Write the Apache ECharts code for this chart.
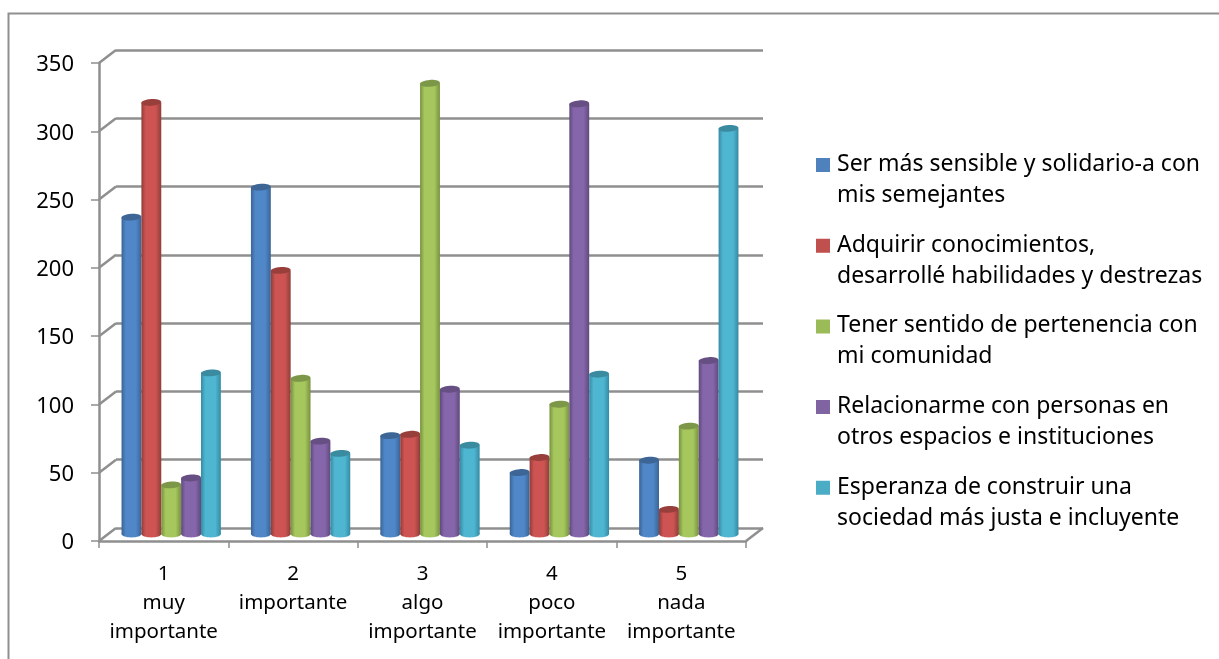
<!DOCTYPE html>
<html><head><meta charset="utf-8">
<style>html,body{margin:0;padding:0;background:#fff}#c{width:1219px;height:659px}</style>
<script src="https://cdn.jsdelivr.net/npm/echarts@6/dist/echarts.min.js"></script>
</head><body><div id="c"></div>
<script>
const categories = ['1\nmuy\nimportante','2\nimportante','3\nalgo\nimportante','4\npoco\nimportante','5\nnada\nimportante'];
const yTicks = [0,50,100,150,200,250,300,350];
const serie1 = [232,254,72,45,54];
const serie2 = [316,193,73,56,18];
const serie3 = [36,114,330,95,79];
const serie4 = [41,68,106,315,127];
const serie5 = [118,59,65,117,297];
const names = [
 'Ser más sensible y solidario-a con\nmis semejantes',
 'Adquirir conocimientos,\ndesarrollé habilidades y destrezas',
 'Tener sentido de pertenencia con\nmi comunidad',
 'Relacionarme con personas en\notros espacios e instituciones',
 'Esperanza de construir una\nsociedad más justa e incluyente'];
const values = [serie1,serie2,serie3,serie4,serie5];
const colors = ['#4f81bd','#c0504d','#9bbb59','#8064a2','#4bacc6'];
const light  = ['#4f87c9','#cd5452','#a5c75e','#8666ab','#4fb6d2'];
const dark   = ['#3a6494','#8f3d3a','#78913f','#5e4a7c','#358ba3'];
const capCol = ['#3d6696','#983f3c','#7c9747','#664f83','#3a8aa0'];
const font = '"Noto Sans", sans-serif';
const gridCol = '#8f8f8f';
const depthX = 17, depthY = 13;

function barRenderer(si){
  return function(params, api){
    const band = api.size([1,0])[0];
    const w = band*0.1535;
    const c = api.coord([api.value(0), api.value(1)]);
    const b = api.coord([api.value(0), 0]);
    const x = c[0] + (si-2)*w - w/2;
    const ry = 3.4;
    const fill = new echarts.graphic.LinearGradient(0,0,1,0,[
      {offset:0,color:dark[si]},{offset:.22,color:light[si]},
      {offset:.72,color:light[si]},{offset:1,color:dark[si]}]);
    return {type:'group',children:[
      {type:'ellipse',shape:{cx:x+w/2,cy:b[1],rx:w/2,ry:ry},style:{fill:fill}},
      {type:'rect',shape:{x:x,y:c[1],width:w,height:b[1]-c[1]},style:{fill:fill}},
      {type:'ellipse',shape:{cx:x+w/2,cy:c[1],rx:w/2,ry:ry},rotation:0.06,originX:x+w/2,originY:c[1],style:{fill:capCol[si]}}
    ]};
  };
}
const barSeries = names.map((n,i)=>({
  name:n,type:'custom',xAxisIndex:2,yAxisIndex:2,z:5,
  itemStyle:{color:colors[i]},encode:{x:0,y:1},
  data:values[i].map((v,k)=>[k,v]),
  renderItem:barRenderer(i),clip:false,silent:true
}));
const depthSeries = {
  type:'custom',xAxisIndex:0,yAxisIndex:0,z:2,silent:true,clip:false,
  encode:{y:0},data:yTicks.map(v=>[v]),
  renderItem(params,api){
    const p = api.coord([0,api.value(0)]);
    const x0 = params.coordSys.x;
    const lines=[{type:'line',shape:{x1:x0,y1:p[1],x2:x0+depthX,y2:p[1]-depthY},style:{stroke:gridCol,lineWidth:2.5}}];
    if(api.value(0)===0){
      const xr=x0+params.coordSys.width;
      lines.push({type:'line',shape:{x1:xr,y1:p[1],x2:xr+depthX,y2:p[1]-depthY},style:{stroke:gridCol,lineWidth:2.5}});
    }
    return {type:'group',children:lines};
  }
};
const catAxis = (idx,extra)=>Object.assign({type:'category',gridIndex:idx,data:categories,show:false},extra||{});
const valAxis = (idx,extra)=>Object.assign({type:'value',gridIndex:idx,min:0,max:350,interval:50,show:false},extra||{});
const chart = echarts.init(document.getElementById('c'),null,{renderer:'canvas'});
chart.setOption({
  animation:false,backgroundColor:'#fff',
  graphic:[{type:'polyline',z:0,shape:{points:[[8.5,659],[8.5,13.5],[1219,13.5]]},style:{fill:'none',stroke:gridCol,lineWidth:2}}],
  grid:[
    {left:99,width:647,top:63,height:478},
    {left:116,width:647,top:50,height:478},
    {left:106.5,width:647,top:56,height:478}
  ],
  xAxis:[
    catAxis(0,{show:true,
      axisLine:{show:true,lineStyle:{color:gridCol,width:2.5}},
      axisTick:{show:true,alignWithLabel:false,length:7,lineStyle:{color:gridCol,width:1.5}},
      axisLabel:{interval:0,margin:19,fontFamily:font,fontSize:20.5,lineHeight:29,color:'#000',verticalAlign:'top'}}),
    catAxis(1),catAxis(2)
  ],
  yAxis:[
    valAxis(0,{show:true,
      axisLine:{show:true,lineStyle:{color:gridCol,width:2.5}},
      axisTick:{show:true,length:8,lineStyle:{color:gridCol,width:1.5}},
      axisLabel:{margin:25,verticalAlign:'top',lineHeight:4,fontFamily:font,fontSize:22,color:'#000'},
      splitLine:{show:false}}),
    valAxis(1,{show:true,axisLine:{show:false},axisTick:{show:false},axisLabel:{show:false},
      splitLine:{show:true,lineStyle:{color:gridCol,width:2.5}}}),
    valAxis(2)
  ],
  legend:{
    show:true,left:816,top:149,orient:'vertical',itemGap:18.7,padding:0,
    itemWidth:16,itemHeight:44,
    icon:'path://M0,0H14V14H0Z M16,44H16.01V44.01H16Z',
    data:names,selectedMode:false,
    textStyle:{fontFamily:font,fontSize:23,lineHeight:31,color:'#000'}
  },
  series:[depthSeries].concat(barSeries)
});
</script></body></html>
